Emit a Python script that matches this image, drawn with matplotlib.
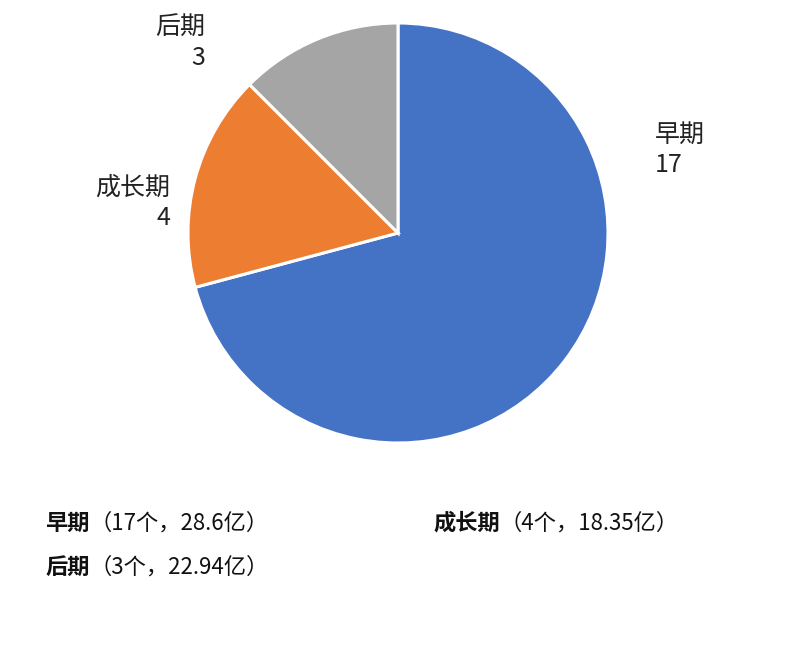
import matplotlib
matplotlib.use("Agg")
import matplotlib.pyplot as plt

plt.rcParams['font.family'] = ['Noto Sans CJK SC', 'DejaVu Sans']

stages = ['早期', '成长期', '后期']
counts = [17, 4, 3]
amounts = ['28.6', '18.35', '22.94']
colors = ['#4472C4', '#ED7D31', '#A5A5A5']

W, H = 797, 646
fig = plt.figure(figsize=(W / 100, H / 100), dpi=100)
ax = fig.add_axes([0, 0, 1, 1])

cx, cy, r = 398, H - 233, 210
ax.pie(counts, colors=colors, startangle=90, counterclock=False,
       center=(cx, cy), radius=r, frame=True,
       wedgeprops=dict(edgecolor='white', linewidth=2.2))
ax.set_xlim(0, W)
ax.set_ylim(0, H)
ax.axis('off')

# data labels
label_pos = [(655, H - 150, 'left'), (170, H - 203, 'right'), (205, H - 43, 'right')]
for name, n, (x, y, ha) in zip(stages, counts, label_pos):
    ax.text(x, y, f'{name}\n{n}', ha=ha, va='center', fontsize=18,
            color='#222222', linespacing=1.2)

# legend-like notes below
note_pos = [(45, H - 523), (433, H - 523), (45, H - 567)]
fig.canvas.draw()
renderer = fig.canvas.get_renderer()
for name, n, amt, (x, y) in zip(stages, counts, amounts, note_pos):
    t = ax.text(x, y, name, ha='left', va='center', fontsize=16,
                fontweight='bold', color='#111111')
    bb = t.get_window_extent(renderer=renderer)
    x1 = ax.transData.inverted().transform((bb.x1, 0))[0]
    ax.text(x1, y, f'（{n}个，{amt}亿）', ha='left', va='center',
            fontsize=16, color='#111111')

fig.savefig('out.png', dpi=100, facecolor='white')
